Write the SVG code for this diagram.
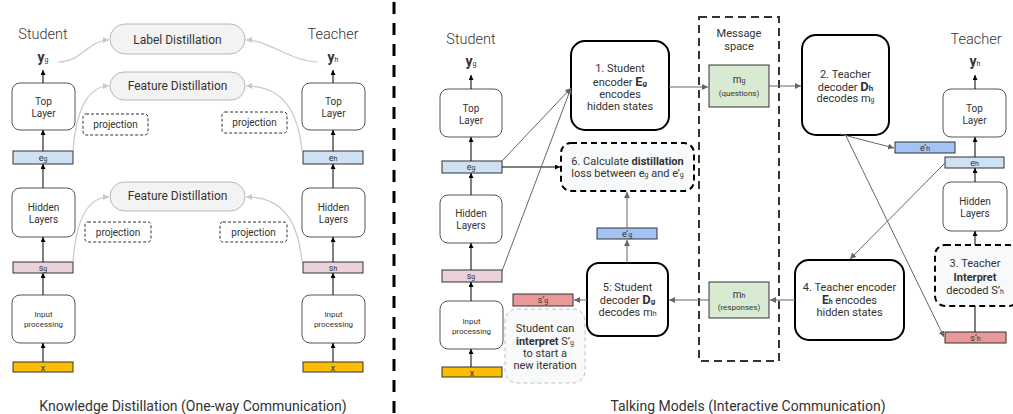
<svg xmlns="http://www.w3.org/2000/svg" width="1013" height="414" viewBox="0 0 1013 414">
<style>
text{font-family:Roboto,"Liberation Sans",Arial,sans-serif;fill:#333;text-anchor:middle}
.h{font-size:14.5px;font-weight:300}
.yv{font-size:14px;font-weight:bold}
.cap{font-size:14px}
.pill{fill:#f3f3f3;stroke:#b7b7b7;stroke-width:1}
.pt{font-size:12px}
.col{fill:#fff;stroke:#555;stroke-width:1}
.ct{font-size:10px}
.it{font-size:8px}
.proj{fill:#fff;stroke:#333;stroke-width:1;stroke-dasharray:3 2}
.bar{stroke:#333;stroke-width:1}
.e{fill:#cfe2f3}.s{fill:#ead1dc}.x{fill:#fbbc04}.ep{fill:#a4c2f4}.sp{fill:#ea9999}
.m{fill:#d9ead3;stroke:#333;stroke-width:1}
.bt{font-size:9px}
.big{fill:#fff;stroke:#000;stroke-width:2}
.dsh{fill:#f8f9fa;stroke:#000;stroke-width:2;stroke-dasharray:6 4}
.soft{fill:#f8f9fa;stroke:#c0c0c0;stroke-width:1;stroke-dasharray:4 3}
.bx{font-size:11px}
.cur{fill:none;stroke:#c8c8c8;stroke-width:1.2}
.ln{fill:none;stroke:#000;stroke-width:1}
.gl{fill:none;stroke:#666;stroke-width:1}
.sb{font-size:7px}
</style>
<defs>
<marker id="ak" viewBox="0 0 6 6" refX="6" refY="3" markerWidth="5" markerHeight="5" orient="auto" markerUnits="userSpaceOnUse"><path d="M0,0L6,3L0,6z" fill="#000"/></marker>
<marker id="ag" viewBox="0 0 6 6" refX="6" refY="3" markerWidth="6" markerHeight="6" orient="auto" markerUnits="userSpaceOnUse"><path d="M0,0L6,3L0,6z" fill="#666"/></marker>
<marker id="ac" viewBox="0 0 6 6" refX="6" refY="3" markerWidth="6" markerHeight="6" orient="auto" markerUnits="userSpaceOnUse"><path d="M0,0L6,3L0,6z" fill="#c8c8c8"/></marker>
</defs>

<!-- divider -->
<line x1="394" y1="2" x2="394" y2="414" stroke="#000" stroke-width="3" stroke-dasharray="12 9"/>

<!-- LEFT PANEL -->
<g id="kd-student-label"><text x="43" y="39" class="h">Student</text><text x="43" y="62" class="yv">y<tspan class="sb" font-weight="normal" dy="0">g</tspan></text></g>
<g id="kd-teacher-label"><text x="333" y="39" class="h">Teacher</text><text x="333" y="62" class="yv">y<tspan class="sb" font-weight="normal">h</tspan></text></g>

<g id="label-distillation"><rect class="pill" x="110" y="24" width="135" height="30" rx="15"/><text x="177.5" y="44" class="pt">Label Distillation</text></g>
<g id="feature-distillation-1"><rect class="pill" x="110" y="72" width="135" height="28" rx="14"/><text x="177.5" y="90" class="pt">Feature Distillation</text></g>
<g id="feature-distillation-2"><rect class="pill" x="110" y="182" width="135" height="29" rx="14.5"/><text x="177.5" y="200" class="pt">Feature Distillation</text></g>

<g id="proj-1"><rect class="proj" x="83" y="114" width="65" height="21" rx="3"/><text x="115.5" y="128" class="ct">projection</text></g>
<g id="proj-2"><rect class="proj" x="222" y="112" width="65" height="21" rx="3"/><text x="254.5" y="126" class="ct">projection</text></g>
<g id="proj-3"><rect class="proj" x="85" y="222" width="66" height="20" rx="3"/><text x="118" y="236" class="ct">projection</text></g>
<g id="proj-4"><rect class="proj" x="220" y="222" width="67" height="20" rx="3"/><text x="253.5" y="236" class="ct">projection</text></g>

<g id="kd-s-top"><rect class="col" x="12" y="83" width="63" height="47" rx="8"/><text x="43.5" y="105" class="ct">Top</text><text x="43.5" y="117" class="ct">Layer</text></g>
<g id="kd-s-eg"><rect class="bar e" x="13" y="151" width="60" height="13"/><text x="43" y="161" class="bt">e<tspan class="sb">g</tspan></text></g>
<g id="kd-s-hidden"><rect class="col" x="12" y="188" width="63" height="49" rx="8"/><text x="43.5" y="211" class="ct">Hidden</text><text x="43.5" y="223" class="ct">Layers</text></g>
<g id="kd-s-sg"><rect class="bar s" x="13" y="262" width="60" height="11"/><text x="43" y="271" class="bt">s<tspan class="sb">g</tspan></text></g>
<g id="kd-s-input"><rect class="col" x="12" y="295" width="63" height="48" rx="8"/><text x="43.5" y="317" class="it">Input</text><text x="43.5" y="327" class="it">processing</text></g>
<g id="kd-s-x"><rect class="bar x" x="13" y="362" width="60" height="10"/><text x="43" y="371" class="bt">x</text></g>

<g id="kd-t-top"><rect class="col" x="302" y="83" width="63" height="47" rx="8"/><text x="333.5" y="105" class="ct">Top</text><text x="333.5" y="117" class="ct">Layer</text></g>
<g id="kd-t-eh"><rect class="bar e" x="303" y="151" width="60" height="13"/><text x="333" y="161" class="bt">e<tspan class="sb">h</tspan></text></g>
<g id="kd-t-hidden"><rect class="col" x="302" y="188" width="63" height="49" rx="8"/><text x="333.5" y="211" class="ct">Hidden</text><text x="333.5" y="223" class="ct">Layers</text></g>
<g id="kd-t-sh"><rect class="bar s" x="303" y="262" width="60" height="11"/><text x="333" y="271" class="bt">s<tspan class="sb">h</tspan></text></g>
<g id="kd-t-input"><rect class="col" x="302" y="295" width="63" height="48" rx="8"/><text x="333.5" y="317" class="it">Input</text><text x="333.5" y="327" class="it">processing</text></g>
<g id="kd-t-x"><rect class="bar x" x="303" y="362" width="60" height="10"/><text x="333" y="371" class="bt">x</text></g>

<text x="193" y="411" class="cap">Knowledge Distillation (One-way Communication)</text>

<!-- RIGHT PANEL -->
<g id="msg-space"><rect x="699" y="17" width="80" height="344" fill="none" stroke="#333" stroke-width="2" stroke-dasharray="8 5"/><text x="739" y="37" class="bx">Message</text><text x="739" y="50" class="bx">space</text></g>

<g id="tm-s-label"><text x="471" y="44" class="h">Student</text><text x="471" y="66" class="yv">y<tspan class="sb" font-weight="normal">g</tspan></text></g>
<g id="tm-t-label"><text x="976" y="44" class="h">Teacher</text><text x="975" y="66" class="yv">y<tspan class="sb" font-weight="normal">h</tspan></text></g>

<g id="tm-s-top"><rect class="col" x="440" y="89" width="62" height="48" rx="8"/><text x="471" y="112" class="ct">Top</text><text x="471" y="124" class="ct">Layer</text></g>
<g id="tm-s-eg"><rect class="bar e" x="442" y="161" width="60" height="12"/><text x="471" y="170" class="bt">e<tspan class="sb">g</tspan></text></g>
<g id="tm-s-hidden"><rect class="col" x="440" y="195" width="62" height="48" rx="8"/><text x="471" y="217" class="ct">Hidden</text><text x="471" y="229" class="ct">Layers</text></g>
<g id="tm-s-sg"><rect class="bar s" x="442" y="270" width="60" height="12"/><text x="471" y="279" class="bt">s<tspan class="sb">g</tspan></text></g>
<g id="tm-s-input"><rect class="col" x="440" y="301" width="63" height="48" rx="8"/><text x="471.5" y="324" class="it">Input</text><text x="471.5" y="334" class="it">processing</text></g>
<g id="tm-s-x"><rect class="bar x" x="442" y="367" width="60" height="10"/><text x="472" y="376" class="bt">x</text></g>

<g id="tm-note"><rect class="soft" x="505" y="309" width="80" height="74" rx="12"/><text x="545" y="332" class="bx">Student can</text><text x="545" y="345" class="bx"><tspan font-weight="bold">interpret</tspan> S’<tspan class="sb">g</tspan></text><text x="545" y="357" class="bx">to start a</text><text x="545" y="369" class="bx">new iteration</text></g>
<g id="tm-s-sgp"><rect class="bar sp" x="513" y="294" width="60" height="12"/><text x="543" y="303" class="bt">s’<tspan class="sb">g</tspan></text></g>
<g id="tm-s-egp"><rect class="bar ep" x="597" y="228" width="60" height="11"/><text x="627" y="237" class="bt">e’<tspan class="sb">g</tspan></text></g>

<g id="box1"><rect class="big" x="571" y="41" width="98" height="89" rx="14"/><text x="620" y="72" class="bx">1. Student</text><text x="620" y="86" class="bx">encoder <tspan font-weight="bold" font-size="13">E</tspan><tspan font-weight="bold" font-size="8">g</tspan></text><text x="620" y="98" class="bx">encodes</text><text x="620" y="110" class="bx">hidden states</text></g>
<g id="box6"><rect class="dsh" x="561" y="143" width="133" height="48" rx="10"/><text x="627.5" y="165" class="bx">6. Calculate <tspan font-weight="bold">distillation</tspan></text><text x="627.5" y="177" class="bx">loss between e<tspan class="sb">g</tspan> and e’<tspan class="sb">g</tspan></text></g>
<g id="box5"><rect class="big" x="587" y="263" width="81" height="73" rx="12"/><text x="627.5" y="291" class="bx">5: Student</text><text x="627.5" y="304" class="bx">decoder <tspan font-weight="bold" font-size="13">D</tspan><tspan font-weight="bold" font-size="8">g</tspan></text><text x="627.5" y="316" class="bx">decodes m<tspan class="sb">h</tspan></text></g>

<g id="mg"><rect class="m" x="709" y="65" width="60" height="42"/><text x="739" y="83" class="ct">m<tspan class="sb">g</tspan></text><text x="739" y="96" class="it">(questions)</text></g>
<g id="mh"><rect class="m" x="709" y="282" width="60" height="36"/><text x="739" y="298" class="ct">m<tspan class="sb">h</tspan></text><text x="739" y="310" class="it">(responses)</text></g>

<g id="box2"><rect class="big" x="802" y="35" width="87" height="100" rx="14"/><text x="845.5" y="78" class="bx">2. Teacher</text><text x="845.5" y="91" class="bx">decoder <tspan font-weight="bold" font-size="13">D</tspan><tspan font-weight="bold" font-size="8">h</tspan></text><text x="845.5" y="102" class="bx">decodes m<tspan class="sb">g</tspan></text></g>
<g id="box4"><rect class="big" x="795" y="260" width="109" height="80" rx="14"/><text x="849.5" y="291" class="bx">4. Teacher encoder</text><text x="849.5" y="304" class="bx"><tspan font-weight="bold" font-size="12">E</tspan><tspan font-weight="bold" font-size="7">h</tspan> encodes</text><text x="849.5" y="316" class="bx">hidden states</text></g>

<g id="tm-t-top"><rect class="col" x="943" y="89" width="63" height="48" rx="8"/><text x="974.5" y="112" class="ct">Top</text><text x="974.5" y="124" class="ct">Layer</text></g>
<g id="tm-t-ehp"><rect class="bar ep" x="895" y="142" width="60" height="11"/><text x="925" y="151" class="bt">e’<tspan class="sb">h</tspan></text></g>
<g id="tm-t-eh"><rect class="bar e" x="945" y="157" width="59" height="11"/><text x="974.5" y="166" class="bt">e<tspan class="sb">h</tspan></text></g>
<g id="tm-t-hidden"><rect class="col" x="943" y="182" width="64" height="49" rx="8"/><text x="975" y="205" class="ct">Hidden</text><text x="975" y="217" class="ct">Layers</text></g>
<g id="box3"><rect class="dsh" x="935" y="245" width="84" height="61" rx="10"/><text x="975" y="267" class="bx">3. Teacher</text><text x="975" y="281" class="bx" font-weight="bold">Interpret</text><text x="975" y="294" class="bx">decoded S’<tspan class="sb">h</tspan></text></g>
<g id="tm-t-shp"><rect class="bar sp" x="945" y="332" width="61" height="11"/><text x="975.5" y="341" class="bt">s’<tspan class="sb">h</tspan></text></g>

<text x="748" y="411" class="cap">Talking Models (Interactive Communication)</text>

<!-- CONNECTORS -->
<g id="connectors">
<path class="cur" d="M58 62 C82 62 88 40 109 40" marker-end="url(#ac)"/>
<path class="cur" d="M318 62 C292 62 268 40 246 40" marker-end="url(#ac)"/>
<path class="cur" d="M73 151 C76 110 88 86 109 86" marker-end="url(#ac)"/>
<path class="cur" d="M302 151 C298 110 282 86 246 86" marker-end="url(#ac)"/>
<path class="cur" d="M73 262 C76 220 88 197 109 197" marker-end="url(#ac)"/>
<path class="cur" d="M302 262 C298 220 282 197 246 197" marker-end="url(#ac)"/>

<line class="ln" x1="43" y1="83" x2="43" y2="70" marker-end="url(#ak)"/>
<line class="ln" x1="43" y1="151" x2="43" y2="130" marker-end="url(#ak)"/>
<line class="ln" x1="43" y1="188" x2="43" y2="164" marker-end="url(#ak)"/>
<line class="ln" x1="43" y1="262" x2="43" y2="237" marker-end="url(#ak)"/>
<line class="ln" x1="43" y1="295" x2="43" y2="273" marker-end="url(#ak)"/>
<line class="ln" x1="43" y1="362" x2="43" y2="343" marker-end="url(#ak)"/>
<line class="ln" x1="333" y1="83" x2="333" y2="70" marker-end="url(#ak)"/>
<line class="ln" x1="333" y1="151" x2="333" y2="130" marker-end="url(#ak)"/>
<line class="ln" x1="333" y1="188" x2="333" y2="164" marker-end="url(#ak)"/>
<line class="ln" x1="333" y1="262" x2="333" y2="237" marker-end="url(#ak)"/>
<line class="ln" x1="333" y1="295" x2="333" y2="273" marker-end="url(#ak)"/>
<line class="ln" x1="333" y1="362" x2="333" y2="343" marker-end="url(#ak)"/>

<line class="ln" x1="471" y1="89" x2="471" y2="75" marker-end="url(#ak)"/>
<line class="ln" x1="471" y1="161" x2="471" y2="137" marker-end="url(#ak)"/>
<line class="ln" x1="471" y1="195" x2="471" y2="173" marker-end="url(#ak)"/>
<line class="ln" x1="471" y1="270" x2="471" y2="243" marker-end="url(#ak)"/>
<line class="ln" x1="471" y1="301" x2="471" y2="282" marker-end="url(#ak)"/>
<line class="ln" x1="471" y1="367" x2="471" y2="349" marker-end="url(#ak)"/>

<line class="ln" x1="975" y1="89" x2="975" y2="75" marker-end="url(#ak)"/>
<line class="ln" x1="975" y1="157" x2="975" y2="137" marker-end="url(#ak)"/>
<line class="ln" x1="975" y1="182" x2="975" y2="168" marker-end="url(#ak)"/>
<line class="ln" x1="975" y1="245" x2="975" y2="231" marker-end="url(#ak)"/>
<line class="ln" x1="975" y1="306" x2="975" y2="332"/>

<line class="ln" x1="502" y1="167" x2="560" y2="167" marker-end="url(#ak)"/>
<line class="gl" x1="502" y1="161" x2="571" y2="88" marker-end="url(#ag)"/>
<line class="gl" x1="502" y1="271" x2="571" y2="88" marker-end="url(#ag)"/>
<line class="gl" x1="669" y1="87" x2="708" y2="87" marker-end="url(#ag)"/>
<line class="gl" x1="769" y1="86" x2="801" y2="86" marker-end="url(#ag)"/>
<line class="gl" x1="840" y1="134" x2="894" y2="148" marker-end="url(#ag)"/>
<line class="gl" x1="845" y1="134" x2="944" y2="337" marker-end="url(#ag)"/>
<line class="gl" x1="945" y1="163" x2="850" y2="259" marker-end="url(#ag)"/>
<line class="gl" x1="795" y1="300" x2="770" y2="300" marker-end="url(#ag)"/>
<line class="gl" x1="709" y1="300" x2="669" y2="300" marker-end="url(#ag)"/>
<line class="gl" x1="587" y1="300" x2="574" y2="300" marker-end="url(#ag)"/>
<line class="gl" x1="627" y1="263" x2="627" y2="240" marker-end="url(#ag)"/>
<line class="gl" x1="627" y1="228" x2="627" y2="192" marker-end="url(#ag)"/>
</g>
</svg>
